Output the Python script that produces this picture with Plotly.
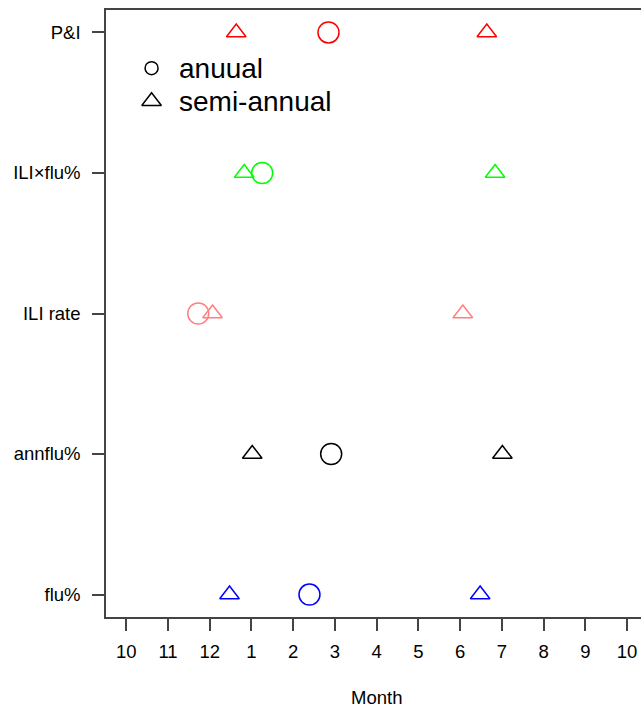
import plotly.graph_objects as go

# Month axis: position 0 = October, 12 = following October
month_ticks = list(range(13))
month_labels = ["10", "11", "12", "1", "2", "3", "4", "5", "6", "7", "8", "9", "10"]

series = ["flu%", "annflu%", "ILI rate", "ILI×flu%", "P&I"]
series_pos = [1, 2, 3, 4, 5]
colors = ["#0000FF", "#000000", "#FF8080", "#00FF00", "#FF0000"]

# peak timing (months since October)
annual_peak = [4.39, 4.91, 1.725, 3.257, 4.846]
semi_peak_1 = [2.474, 3.018, 2.067, 2.826, 2.635]
semi_peak_2 = [8.48, 9.013, 8.065, 8.838, 8.64]

legend_labels = ["anuual", "semi-annual"]

FONT = "Liberation Sans, Arial, sans-serif"
fig = go.Figure()

for i, name in enumerate(series):
    fig.add_trace(go.Scatter(
        x=[semi_peak_1[i], semi_peak_2[i]], y=[series_pos[i]] * 2,
        mode="markers", showlegend=False,
        marker=dict(symbol="triangle-up-open", size=17, color=colors[i],
                    line=dict(width=1.5, color=colors[i])),
    ))
    fig.add_trace(go.Scatter(
        x=[annual_peak[i]], y=[series_pos[i]],
        mode="markers", showlegend=False,
        marker=dict(symbol="circle-open", size=21, color=colors[i],
                    line=dict(width=1.5, color=colors[i])),
    ))

# manual legend
leg_x = 0.606
leg_y = [4.746, 4.511]
leg_sym = ["circle-open", "triangle-up-open"]
leg_size = [13, 17]
for j in range(2):
    fig.add_trace(go.Scatter(
        x=[leg_x], y=[leg_y[j]], mode="markers", showlegend=False,
        marker=dict(symbol=leg_sym[j], size=leg_size[j], color="#000000",
                    line=dict(width=1.5, color="#000000")),
    ))
    fig.add_annotation(x=1.21, y=leg_y[j], text=legend_labels[j], showarrow=False,
                       xanchor="left", yanchor="middle",
                       font=dict(family=FONT, size=28, color="#000000"))

fig.add_annotation(x=6, y=-0.132, yref="paper", text="Month", showarrow=False,
                   xanchor="center", yanchor="middle",
                   font=dict(family=FONT, size=18.5, color="#000000"))

fig.update_layout(
    width=641, height=708,
    margin=dict(l=106, r=0, t=10, b=91),
    paper_bgcolor="white", plot_bgcolor="white",
    font=dict(family=FONT, size=18.5, color="#000000"),
    xaxis=dict(range=[-0.486, 12.335], tickmode="array", tickvals=month_ticks,
               ticktext=month_labels, showgrid=False, zeroline=False,
               showline=True, linecolor="#444444", linewidth=1.5, mirror=True,
               ticks="outside", ticklen=12, tickwidth=1.5, tickcolor="#444444",
               ticklabelstandoff=5,
               tickfont=dict(family=FONT, size=18.5, color="#000000")),
    yaxis=dict(range=[0.84, 5.16], tickmode="array", tickvals=series_pos,
               ticktext=series, showgrid=False, zeroline=False,
               showline=True, linecolor="#444444", linewidth=1.5, mirror=False,
               ticks="outside", ticklen=12, tickwidth=1.5, tickcolor="#444444",
               ticklabelstandoff=8,
               tickfont=dict(family=FONT, size=18.5, color="#000000")),
)

fig.write_html(
    "out.html",
    config={"displayModeBar": False},
    post_script="document.body.style.margin='0';document.body.style.overflow='hidden';",
)
